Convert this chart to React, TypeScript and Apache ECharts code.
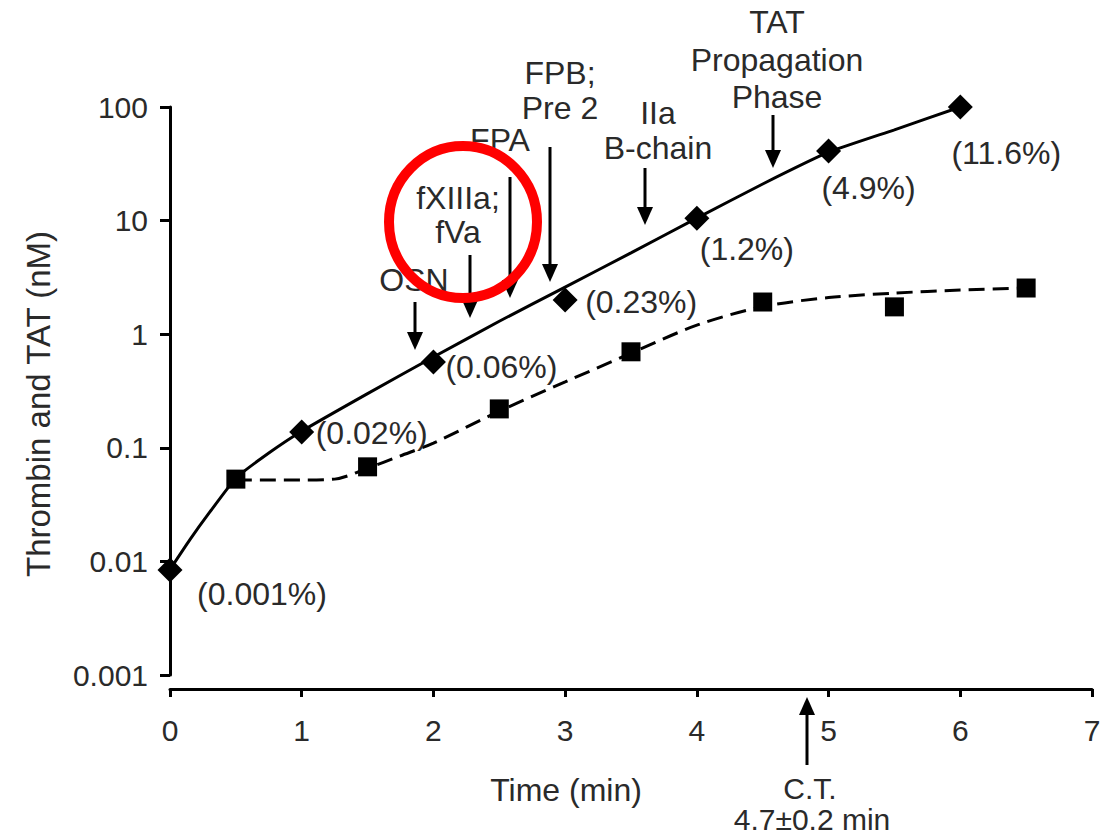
import React, { useEffect, useRef } from "react";
import * as echarts from "echarts";

// ---- data ----
const thrombinTime = [0, 1, 2, 3, 4, 5, 6];
const thrombinNM = [0.0084, 0.138, 0.57, 2.0, 10.5, 41, 100];
const thrombinPct = ["(0.001%)", "(0.02%)", "(0.06%)", "(0.23%)", "(1.2%)", "(4.9%)", "(11.6%)"];

const tatTime = [0.5, 1.5, 2.5, 3.5, 4.5, 5.5, 6.5];
const tatNM = [0.053, 0.068, 0.22, 0.7, 1.92, 1.74, 2.55];

// fitted curves as drawn in the figure
const thrombinFitTime = [0, 0.15, 0.3, 0.5, 0.75, 1, 1.5, 2, 2.5, 3, 3.5, 4, 4.5, 5, 5.5, 6];
const thrombinFit = [0.0085, 0.0155, 0.027, 0.054, 0.09, 0.14, 0.3, 0.63, 1.3, 2.6, 5.2, 10.5, 21, 40, 63, 100];

const tatFitTime = [0.5, 0.75, 1, 1.25, 1.5, 1.75, 2, 2.5, 3, 3.5, 4, 4.5, 5, 5.5, 6, 6.5];
const tatFit = [0.052, 0.052, 0.052, 0.053, 0.066, 0.085, 0.11, 0.21, 0.38, 0.68, 1.2, 1.75, 2.1, 2.3, 2.45, 2.55];

const yTickLabels = ["0.001", "0.01", "0.1", "1", "10", "100"];

// label offsets for percent annotations (pixels)
const pctOffsets = [[92, 24], [70, 1], [68, 5], [76, 2], [50, 31], [40, 37], [46, 46]];

// event annotations: text lines, text centre x, line y's, arrow x, arrow top, arrow tip
const events = [
  { lines: ["OSN"], tx: 414, ty: [280], ax: 415, a1: 302, a2: 350 },
  { lines: ["fXIIIa;", "fVa"], tx: 458, ty: [198, 232], ax: 470, a1: 255, a2: 318 },
  { lines: ["FPA"], tx: 500, ty: [140], ax: 510, a1: 177, a2: 298 },
  { lines: ["FPB;", "Pre 2"], tx: 560, ty: [73, 108], ax: 550, a1: 147, a2: 282 },
  { lines: ["IIa", "B-chain"], tx: 658, ty: [113, 148], ax: 645, a1: 168, a2: 225 },
  { lines: ["TAT", "Propagation", "Phase"], tx: 777, ty: [22, 60, 97], ax: 773, a1: 115, a2: 168 },
];

const FONT = "'Liberation Sans', Arial, Helvetica, sans-serif";
const TXT = "#2a2a2a";
const FS = 30; // tick labels
const FA = 32; // annotations / names

function arrow(x: number, from: number, tip: number) {
  const dir = tip > from ? 1 : -1;
  const head = 18;
  const hw = 8;
  return [
    {
      type: "line",
      shape: { x1: x, y1: from, x2: x, y2: tip - dir * head },
      style: { stroke: "#000", lineWidth: 3 },
      z: 10,
    },
    {
      type: "polygon",
      shape: {
        points: [
          [x - hw, tip - dir * head],
          [x + hw, tip - dir * head],
          [x, tip],
        ],
      },
      style: { fill: "#000" },
      z: 10,
    },
  ];
}

function textEl(text: string, x: number, y: number, size = FA, rotation = 0) {
  return {
    type: "text",
    x,
    y,
    rotation,
    style: {
      text,
      font: `${size}px ${FONT}`,
      fill: TXT,
      align: "center",
      verticalAlign: "middle",
    },
    z: 10,
  };
}

export default function App() {
  const ref = useRef<HTMLDivElement>(null);
  useEffect(() => {
    if (!ref.current) return;
    const chart = echarts.init(ref.current, null, { renderer: "svg" });

    const graphic: any[] = [];
    events.forEach((e) => {
      e.lines.forEach((l, i) => graphic.push(textEl(l, e.tx, e.ty[i])));
      graphic.push(...arrow(e.ax, e.a1, e.a2));
    });
    graphic.push(...arrow(807, 765, 697));
    graphic.push(textEl("C.T.", 810, 788, 30));
    graphic.push(textEl("4.7±0.2 min", 812, 819, 30));
    graphic.push(textEl("Thrombin and TAT (nM)", 38, 404, 33, Math.PI / 2));
    graphic.push({
      type: "ellipse",
      shape: { cx: 463, cy: 222, rx: 74, ry: 76 },
      style: { stroke: "#ff0000", lineWidth: 10, fill: "none" },
      z: 20,
    });

    chart.setOption({
      animation: false,
      backgroundColor: "#ffffff",
      grid: { left: 170, top: 107, width: 922, height: 568, containLabel: false },
      xAxis: {
        type: "value",
        min: 0,
        max: 7,
        interval: 1,
        offset: 14,
        name: "Time (min)",
        nameLocation: "middle",
        nameGap: 85,
        nameTextStyle: { fontFamily: FONT, fontSize: FA, color: TXT, padding: [0, 130, 0, 0] },
        axisLine: { show: true, lineStyle: { color: "#000", width: 3 } },
        axisTick: { show: true, length: 8, lineStyle: { color: "#000", width: 3 } },
        axisLabel: { fontFamily: FONT, fontSize: FS, color: TXT, margin: 26 },
        splitLine: { show: false },
      },
      yAxis: {
        type: "log",
        logBase: 10,
        min: 0.001,
        max: 100,
        axisLine: { show: true, lineStyle: { color: "#000", width: 3 } },
        axisTick: { show: true, length: 10, lineStyle: { color: "#000", width: 3 } },
        minorTick: { show: false },
        axisLabel: {
          fontFamily: FONT,
          fontSize: FS,
          color: TXT,
          margin: 22,
          formatter: (v: number) => {
            const idx = Math.round(Math.log10(v)) + 3;
            return yTickLabels[idx] ?? String(v);
          },
        },
        splitLine: { show: false },
      },
      series: [
        {
          name: "Thrombin fit",
          type: "line",
          data: thrombinFitTime.map((t, i) => [t, thrombinFit[i]]),
          smooth: 0.15,
          showSymbol: false,
          lineStyle: { color: "#000", width: 3 },
          z: 2,
        },
        {
          name: "TAT fit",
          type: "line",
          data: tatFitTime.map((t, i) => [t, tatFit[i]]),
          smooth: 0.3,
          showSymbol: false,
          lineStyle: { color: "#000", width: 3, type: [16, 8] },
          z: 2,
        },
        {
          name: "Thrombin",
          type: "scatter",
          symbol: "diamond",
          symbolSize: [25, 25],
          itemStyle: { color: "#000", opacity: 1 },
          data: thrombinTime.map((t, i) => ({
            value: [t, thrombinNM[i]],
            label: {
              show: true,
              formatter: thrombinPct[i],
              position: "inside",
              offset: pctOffsets[i],
              fontFamily: FONT,
              fontSize: FA,
              color: TXT,
              opacity: 1,
            },
          })),
          z: 5,
        },
        {
          name: "TAT",
          type: "scatter",
          symbol: "rect",
          symbolSize: 19,
          itemStyle: { color: "#000", opacity: 1 },
          data: tatTime.map((t, i) => [t, tatNM[i]]),
          z: 5,
        },
      ],
      graphic,
    });
    return () => chart.dispose();
  }, []);
  return (
    <div
      ref={ref}
      style={{ position: "absolute", left: 0, top: 0, width: 1111, height: 837 }}
    />
  );
}
